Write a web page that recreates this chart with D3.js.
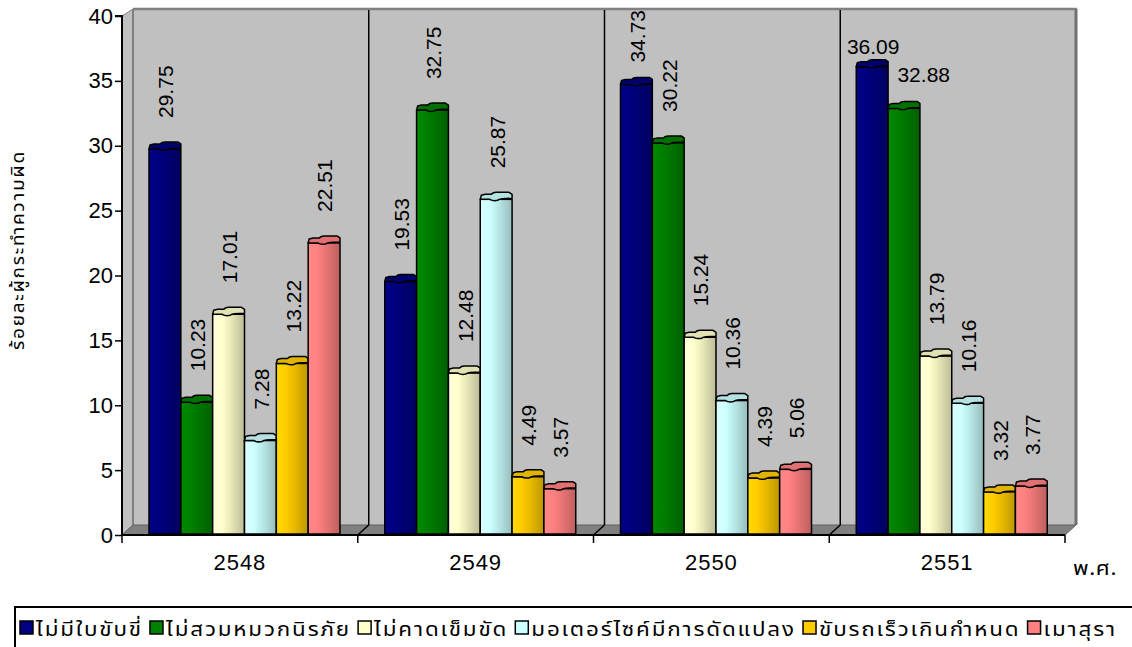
<!DOCTYPE html>
<html>
<head>
<meta charset="utf-8">
<script src="https://cdn.jsdelivr.net/npm/d3@7/dist/d3.min.js"></script>
<style>
  html, body { margin: 0; padding: 0; background: #fff; }
  svg { display: block; }
  .num { font-family: "Liberation Sans", Arial, sans-serif; }
  .thai { font-family: "Noto Sans Thai", "Noto Sans", "DejaVu Sans", sans-serif; font-weight: 400; }
</style>
</head>
<body>
<svg id="chart" width="1132" height="647"></svg>
<script>
// Offenders by violation type, percent, by Buddhist-era year
const categories = ["2548", "2549", "2550", "2551"];
const seriesNames = ["ไม่มีใบขับขี่", "ไม่สวมหมวกนิรภัย", "ไม่คาดเข็มขัด", "มอเตอร์ไซค์มีการดัดแปลง", "ขับรถเร็วเกินกำหนด", "เมาสุรา"];
const seriesColors = ["#000080", "#008000", "#ffffcc", "#ccffff", "#ffcc00", "#ff8080"];

const noLicense    = [29.75, 19.53, 34.73, 36.09];
const noHelmet     = [10.23, 32.75, 30.22, 32.88];
const noSeatbelt   = [17.01, 12.48, 15.24, 13.79];
const modifiedBike = [7.28, 25.87, 10.36, 10.16];
const speeding     = [13.22, 4.49, 4.39, 3.32];
const drunk        = [22.51, 3.57, 5.06, 3.77];

const yTicks = [0, 5, 10, 15, 20, 25, 30, 35, 40];
const yTitle = "ร้อยละผู้กระทำความผิด";
const xUnit = "พ.ศ.";

const seriesValues = [noLicense, noHelmet, noSeatbelt, modifiedBike, speeding, drunk];

const svg = d3.select("#chart");
const defs = svg.append("defs");

// plot frame
const x0 = 122, x1 = 1065, yBase = 535, yTopAxis = 16;
const depthX = 11, depthY = 10;

const y = d3.scaleLinear().domain([0, 40]).range([yBase, yTopAxis]);
const x = d3.scaleBand().domain(categories).range([x0, x1]).padding(0);
const xInner = d3.scaleBand().domain(d3.range(seriesNames.length)).range([27, 218]).padding(0);

// 3D box: left wall, back wall, floor
const wallTop = 9;
svg.append("polygon")
  .attr("points", [[x0, yTopAxis], [x0 + depthX, wallTop], [x0 + depthX, yBase - depthY], [x0, yBase]].join(" "))
  .attr("fill", "#c0c0c0").attr("stroke", "#808080").attr("stroke-width", 1);
svg.append("rect")
  .attr("x", x0 + depthX).attr("y", wallTop)
  .attr("width", x1 - x0).attr("height", yBase - depthY - wallTop)
  .attr("fill", "#c0c0c0");
// wall edges
svg.append("line").attr("x1", x0 + depthX).attr("x2", x1 + depthX + 1).attr("y1", wallTop).attr("y2", wallTop)
  .attr("stroke", "#808080").attr("stroke-width", 2.5);
svg.append("line").attr("x1", x1 + depthX).attr("x2", x1 + depthX).attr("y1", wallTop).attr("y2", yBase - depthY)
  .attr("stroke", "#707070").attr("stroke-width", 3);
svg.append("line").attr("x1", x0 + depthX).attr("x2", x0 + depthX).attr("y1", wallTop).attr("y2", yBase - depthY)
  .attr("stroke", "#808080").attr("stroke-width", 2);
svg.append("polygon")
  .attr("points", [[x0, yBase], [x0 + depthX, yBase - depthY], [x1 + depthX, yBase - depthY], [x1, yBase]].join(" "))
  .attr("fill", "#808080").attr("stroke", "#606060").attr("stroke-width", 1);

// category dividers on the back wall and floor
const bounds = categories.slice(1).map(c => x(c));
svg.append("g").selectAll("line").data(bounds).join("line")
  .attr("x1", d => d + depthX).attr("x2", d => d + depthX)
  .attr("y1", wallTop + 1).attr("y2", yBase - depthY)
  .attr("stroke", "#000").attr("stroke-width", 1.5);
svg.append("g").selectAll("line").data(bounds).join("line")
  .attr("x1", d => d).attr("x2", d => d + depthX)
  .attr("y1", yBase).attr("y2", yBase - depthY)
  .attr("stroke", "#000").attr("stroke-width", 1.5);

// gradients for the column bodies
seriesColors.forEach((c, i) => {
  const g = defs.append("linearGradient").attr("id", "grad" + i)
    .attr("x1", "0").attr("x2", "1").attr("y1", "0").attr("y2", "0");
  const base = d3.color(c);
  g.append("stop").attr("offset", "0").attr("stop-color", base.brighter(0.2));
  g.append("stop").attr("offset", "0.3").attr("stop-color", base);
  g.append("stop").attr("offset", "0.6").attr("stop-color", base.darker(0.3));
  g.append("stop").attr("offset", "1").attr("stop-color", base.darker(0.85));
});

function capPath(bx, bw, yt) {
  const r = bx + bw;
  return `M${bx},${yt} L${bx + 1},${yt - 4} L${bx + 5},${yt - 5} L${bx + bw * 0.35},${yt - 5} ` +
    `Q${bx + bw * 0.4},${yt - 7} ${bx + bw * 0.5},${yt - 7} L${r - 3},${yt - 7} L${r},${yt - 5} L${r},${yt - 1} ` +
    `Q${bx + bw * 0.6},${yt - 1} ${bx + bw * 0.55},${yt + 1} Q${bx + bw * 0.4},${yt + 2} ${bx + bw * 0.3},${yt} Z`;
}

// bars
const barsG = svg.append("g");
const labelG = svg.append("g");
const bw = xInner.bandwidth();
const labelFont = 21, gap = 31;

categories.forEach((cat, ci) => {
  let prevFlat = null;
  seriesValues.forEach((vals, si) => {
    const v = vals[ci];
    const bx = x(cat) + xInner(si);
    const yt = y(v);
    const g = barsG.append("g");
    g.append("rect")
      .attr("x", bx).attr("y", yt).attr("width", bw).attr("height", yBase - 1 - yt)
      .attr("fill", `url(#grad${si})`).attr("stroke", "#000").attr("stroke-width", 1.5);
    g.append("path").attr("d", capPath(bx, bw, yt))
      .attr("fill", d3.color(seriesColors[si]).darker(0.35))
      .attr("stroke", "#000").attr("stroke-width", 1.5).attr("stroke-linejoin", "round");

    // value label: rotated above the column, laid flat where it cannot fit under the wall top
    const txt = v.toFixed(2);
    const t = labelG.append("text").attr("class", "num")
      .attr("font-size", labelFont).attr("fill", "#000").text(txt);
    const len = t.node().getComputedTextLength();
    const cx = bx + bw / 2 + 1;
    let start = yt - gap;
    if (start - len < wallTop + 1) start = wallTop + 1 + len;
    let flat = start > yt - 15;
    if (!flat && prevFlat && cx - 10 < prevFlat.right && start - len < prevFlat.bottom) flat = true;
    if (flat) {
      let tx = cx - len / 2, base = yt - 13;
      if (prevFlat && tx < prevFlat.right) { tx = prevFlat.right - 2; base = yt - 26; }
      t.attr("x", tx).attr("y", base);
      prevFlat = { right: tx + len, bottom: base };
    } else {
      t.attr("transform", `translate(${cx},${start}) rotate(-90)`)
        .attr("dy", "0.35em");
      prevFlat = null;
    }
  });
});

// axes
const yAxis = d3.axisLeft(y).tickValues(yTicks).tickSize(7).tickPadding(2).tickFormat(d3.format("d"));
const yg = svg.append("g").attr("transform", `translate(${x0},0)`).call(yAxis);
yg.select(".domain").attr("stroke", "#000").attr("stroke-width", 2).attr("d", `M-7,${y(40)}H0V${yBase}`);
yg.selectAll(".tick line").attr("stroke", "#000").attr("stroke-width", 1.5);
yg.selectAll(".tick text").attr("class", "num").attr("font-size", 22).attr("fill", "#000")
  .attr("font-family", "Liberation Sans, Arial, sans-serif");

const xAxis = d3.axisBottom(x).tickSize(0).tickPadding(19);
const xg = svg.append("g").attr("transform", `translate(0,${yBase})`).call(xAxis);
xg.select(".domain").attr("stroke", "#000").attr("stroke-width", 2).attr("d", `M${x0},0H${x1}`);
xg.selectAll(".tick text").attr("font-size", 22).attr("fill", "#000")
  .attr("font-family", "Liberation Sans, Arial, sans-serif").attr("letter-spacing", 1);
// boundary ticks between years
svg.append("g").selectAll("line").data([x0, ...bounds, x1]).join("line")
  .attr("x1", d => d).attr("x2", d => d).attr("y1", yBase).attr("y2", yBase + 8)
  .attr("stroke", "#000").attr("stroke-width", 1.5);

// Thai text: a slight horizontal stretch plus letter spacing per grapheme cluster
const segmenter = new Intl.Segmenter("th", { granularity: "grapheme" });
const clusterCount = s => Array.from(segmenter.segment(s)).length;
const thaiStretch = 1.12;
function spreadTo(sel, str, target) {
  const w = sel.node().getComputedTextLength() * thaiStretch;
  const ls = Math.max(0, (target - w) / clusterCount(str) / thaiStretch);
  sel.attr("letter-spacing", ls);
}

const unit = svg.append("text").attr("class", "thai").attr("font-size", 20).text(xUnit);
spreadTo(unit, xUnit, 44);
unit.attr("transform", `translate(1073,575) scale(${thaiStretch},1)`);

const title = svg.append("text").attr("class", "thai")
  .attr("dy", "0.35em").attr("font-size", 17).text(yTitle);
spreadTo(title, yTitle, 200);
title.attr("transform", `translate(18,350) rotate(-90) scale(${thaiStretch},1)`);

// legend
const lg = svg.append("g");
lg.append("path").attr("d", "M15,660V607H1140").attr("fill", "none").attr("stroke", "#000").attr("stroke-width", 2);
const legendTexts = seriesNames.map(name =>
  lg.append("text").attr("class", "thai").attr("font-size", 20).text(name));
const rawWidths = legendTexts.map(t => t.node().getComputedTextLength());
const clusters = seriesNames.map(clusterCount);
const legStart = 20, legEnd = 1117, swatchW = 16, itemGap = 7;
const spare = legEnd - legStart - seriesNames.length * swatchW - (seriesNames.length - 1) * itemGap
  - d3.sum(rawWidths) * thaiStretch;
const legLs = Math.max(0, spare / d3.sum(clusters) / thaiStretch);
let lx = legStart;
seriesNames.forEach((name, i) => {
  lg.append("rect").attr("x", lx).attr("y", 621).attr("width", 13).attr("height", 13)
    .attr("fill", seriesColors[i]).attr("stroke", "#000").attr("stroke-width", 1.5);
  legendTexts[i].attr("letter-spacing", legLs)
    .attr("transform", `translate(${lx + swatchW},636) scale(${thaiStretch},1)`);
  lx += swatchW + (rawWidths[i] + legLs * clusters[i]) * thaiStretch + itemGap;
});
</script>
</body>
</html>
